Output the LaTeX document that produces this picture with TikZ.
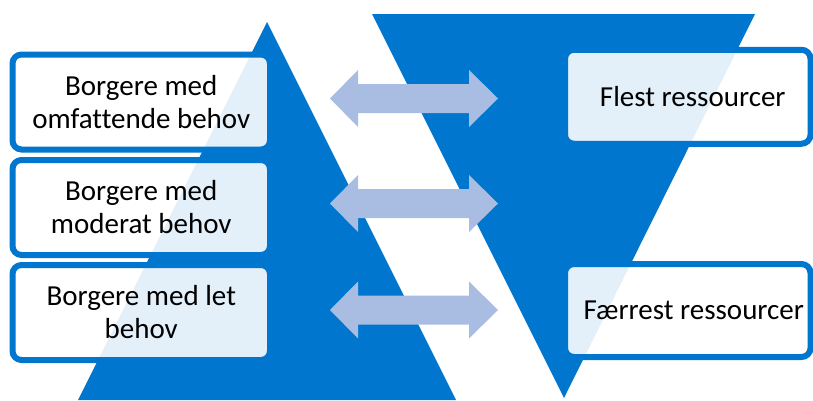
\documentclass[tikz,border=0pt]{standalone}
\usepackage{fontspec}
\setmainfont{Carlito}[Ligatures=NoCommon]
\definecolor{pyrblue}{RGB}{0,118,206}
\definecolor{arrowfill}{RGB}{169,189,227}
\begin{document}
\begin{tikzpicture}[x=1pt,y=-1pt,
  card/.style={draw=pyrblue, line width=6pt, rounded corners=9pt,
    fill=white, fill opacity=0.89, text opacity=1, inner sep=0pt},
  lcard/.style={card, minimum width=257.5pt, minimum height=95pt},
  rcard/.style={card, minimum width=245.5pt, minimum height=94pt},
  lbl/.style={font=\fontsize{29}{33}\selectfont, align=center, text=black, inner sep=0pt},
  pics/twoway/.style={code={
    \fill[arrowfill] (-84,0) -- (-56,-28.5) -- (-56,-14.5) -- (55,-14.5) -- (55,-28.5)
      -- (84,0) -- (55,28.5) -- (55,14.5) -- (-56,14.5) -- (-56,28.5) -- cycle;}}]
\useasboundingbox (0,0) rectangle (813,400);

% upward and downward triangles
\fill[pyrblue] (267,22) -- (456,400) -- (78,400) -- cycle;
\fill[pyrblue] (372,14) -- (755,14) -- (564,398) -- cycle;

% cards on the left
\node[lcard] (b1) at (141.25,102) {};
\node[lcard] (b2) at (141.25,207.5) {};
\node[lcard] (b3) at (141.25,312.5) {};
\node[lbl] (tb1) at (b1.center) {Borgere med\\omfattende behov};
\node[lbl] (tb2) at (b2.center) {Borgere med\\moderat behov};
\node[lbl] (tb3) at (b3.center) {Borgere med let\\behov};

% cards on the right
\node[rcard] (r1) at (687.75,96.75) {};
\node[rcard, minimum height=93pt] (r2) at (687.75,310.5) {};
\node[lbl] (tr1) at ([xshift=5pt]r1.center) {Flest ressourcer};
\node[lbl] (tr2) at ([xshift=6pt]r2.center) {Færrest ressourcer};

% two-way arrows between the triangles
\coordinate (a1) at (414,98.5);
\coordinate (a2) at (414,203.5);
\coordinate (a3) at (414,310);
\pic at (a1) {twoway};
\pic at (a2) {twoway};
\pic at (a3) {twoway};
\end{tikzpicture}
\end{document}
